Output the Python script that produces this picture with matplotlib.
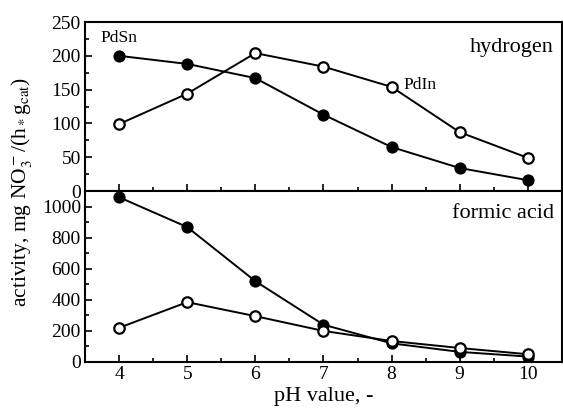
import matplotlib
matplotlib.use("Agg")
import matplotlib.pyplot as plt
from matplotlib.ticker import MultipleLocator

plt.rcParams['font.family'] = ['Liberation Serif', 'DejaVu Serif']
plt.rcParams['mathtext.fontset'] = 'stix'

ph = [4, 5, 6, 7, 8, 9, 10]

# hydrogen as reductant
h2_pdsn = [200, 188, 167, 113, 65, 34, 16]
h2_pdin = [99, 144, 204, 184, 154, 87, 49]

# formic acid as reductant
fa_pdsn = [1060, 868, 520, 240, 120, 65, 35]
fa_pdin = [220, 385, 295, 200, 135, 90, 50]

fig = plt.figure(figsize=(5.63, 4.13), dpi=100)
ax1 = fig.add_axes([0.151, 0.5375, 0.847, 0.4092])
ax2 = fig.add_axes([0.151, 0.1235, 0.847, 0.414], sharex=ax1)

filled = dict(color='black', marker='o', markersize=7.5, markerfacecolor='black',
              markeredgewidth=1.3, linewidth=1.4)
hollow = dict(color='black', marker='o', markersize=7.5, markerfacecolor='white',
              markeredgewidth=1.6, linewidth=1.4)

ax1.plot(ph, h2_pdsn, **filled)
ax1.plot(ph, h2_pdin, **hollow)
ax2.plot(ph, fa_pdsn, **filled)
ax2.plot(ph, fa_pdin, **hollow)

ax1.set_ylim(0, 250)
ax1.yaxis.set_major_locator(MultipleLocator(50))
ax1.yaxis.set_minor_locator(MultipleLocator(25))
ax2.set_ylim(0, 1100)
ax2.yaxis.set_major_locator(MultipleLocator(200))
ax2.yaxis.set_minor_locator(MultipleLocator(100))
ax2.set_xlim(3.5, 10.5)
ax2.xaxis.set_major_locator(MultipleLocator(1))
ax2.xaxis.set_minor_locator(MultipleLocator(0.5))

for ax in (ax1, ax2):
    for s in ax.spines.values():
        s.set_linewidth(1.5)
    ax.tick_params(which='both', direction='in', top=False, right=False,
                   labelsize=14, width=1.2, pad=3)
    ax.tick_params(which='major', length=5)
    ax.tick_params(which='minor', length=3)
ax1.tick_params(labelbottom=False)

ax1.text(4.0, 226, 'PdSn', fontsize=12.5, ha='center', va='center')
ax1.text(8.42, 157, 'PdIn', fontsize=12.5, ha='center', va='center')
ax1.text(10.38, 213, 'hydrogen', fontsize=16, ha='right', va='center')
ax2.text(10.38, 957, 'formic acid', fontsize=16, ha='right', va='center')

ax2.set_xlabel('pH value, -', fontsize=16, labelpad=3)
fig.text(0.038, 0.535, r'activity, mg NO$_3^-$/(h$_*$g$_{\rm cat}$)',
         rotation=90, fontsize=15.5, ha='center', va='center')

fig.savefig('out.png', dpi=100)
